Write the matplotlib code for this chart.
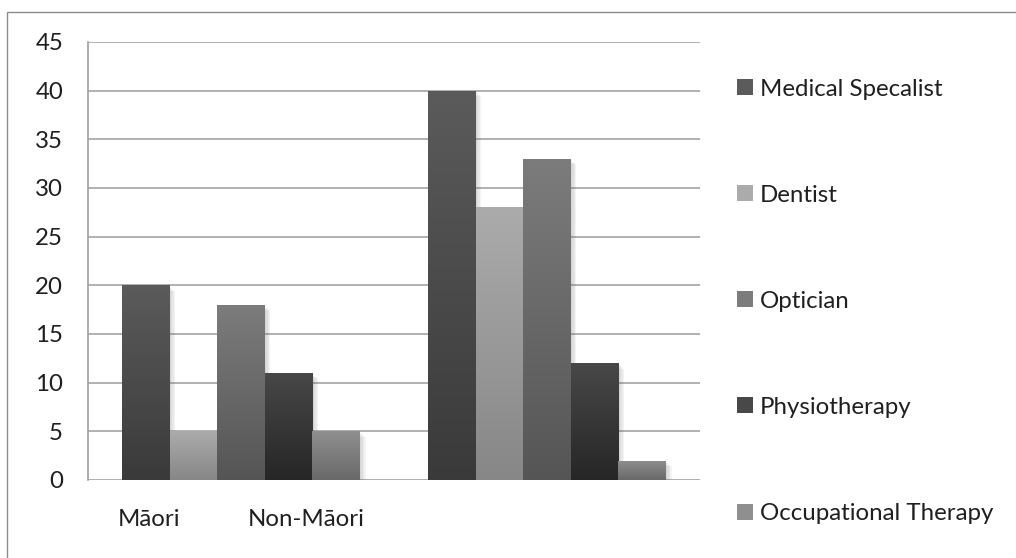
import numpy as np
import matplotlib
matplotlib.use("Agg")
import matplotlib.pyplot as plt
from matplotlib.patches import Rectangle
from matplotlib.colors import LinearSegmentedColormap
import matplotlib.patheffects as pe

# Data
categories = ["Māori", "Non-Māori"]
series_names = ["Medical Specalist", "Dentist", "Optician", "Physiotherapy", "Occupational Therapy"]
medical = [20, 40]
dentist = [5, 28]
optician = [18, 33]
physio = [11, 12]
occupational = [5, 2]
y_ticks = [0, 5, 10, 15, 20, 25, 30, 35, 40, 45]

series_values = [medical, dentist, optician, physio, occupational]
# (top, bottom) gradient shades per series
shades = [("#5b5b5b", "#3a3a3a"),
          ("#ababab", "#878787"),
          ("#7c7c7c", "#555555"),
          ("#484848", "#262626"),
          ("#8f8f8f", "#696969")]

plt.rcParams["font.family"] = ["Lato", "DejaVu Sans"]
FS = 17.3
TXT = "#1f1f1f"

W, H = 1016, 558
fig = plt.figure(figsize=(W / 100, H / 100), dpi=100)
fig.patch.set_facecolor("white")

# outer chart frame
fig.patches.append(Rectangle((7 / W, -0.05), 1.2, 1 - 12 / H + 0.05,
                             transform=fig.transFigure, fill=False,
                             edgecolor="#8c8c8c", linewidth=1.0))

ax = fig.add_axes([88 / W, 1 - 480 / H, (700 - 88) / W, (480 - 42) / H])
ax.set_xlim(-0.5, 1.5)
ax.set_ylim(0, 45)
ax.set_yticks(y_ticks)
ax.set_yticklabels([str(v) for v in y_ticks], fontsize=FS, color=TXT)
ax.tick_params(axis="y", length=0, pad=18)
ax.tick_params(axis="x", length=0, pad=21)
for s in ["top", "right", "bottom"]:
    ax.spines[s].set_visible(False)
ax.spines["left"].set_color("#a0a0a0")
ax.spines["left"].set_linewidth(1.2)
ax.grid(axis="y", color="#a3a3a3", linewidth=1.2)
ax.set_axisbelow(True)

# category labels sit under the left part of the plot
ax.set_xticks([-0.30, 0.212])
ax.set_xticklabels(categories, fontsize=FS, color=TXT)

# soft drop shadow built from a few faint offset copies
shadow = [pe.SimplePatchShadow(offset=(d, -d), shadow_rgbFace="#606060", alpha=0.07)
          for d in (1, 2, 3, 4)] + [pe.Normal()]

n = len(series_names)
group_w = 238 / 306
bw = group_w / n
x = np.arange(len(categories))
for i, (vals, (top, bot)) in enumerate(zip(series_values, shades)):
    cmap = LinearSegmentedColormap.from_list(f"g{i}", [bot, top])
    xs = x - group_w / 2 + bw * (i + 0.5)
    bars = ax.bar(xs, vals, width=bw, color=top, linewidth=0, zorder=3)
    for b in bars:
        b.set_path_effects(shadow)
        x0, y0 = b.get_x(), b.get_y()
        grad = np.linspace(0, 1, 256).reshape(-1, 1)
        im = ax.imshow(grad, cmap=cmap, origin="lower", aspect="auto",
                       extent=(x0, x0 + b.get_width(), y0, y0 + b.get_height()),
                       zorder=4, interpolation="bicubic")
        im.set_clip_path(b)
ax.set_xlim(-0.5, 1.5)
ax.set_ylim(0, 45)

# legend
leg_y = [87, 193, 299, 405, 512]
for name, (top, bot), yy in zip(series_names, shades, leg_y):
    fig.patches.append(Rectangle((737 / W, 1 - (yy + 8) / H), 16 / W, 16 / H,
                                 transform=fig.transFigure, facecolor=top,
                                 edgecolor="none"))
    fig.text(760 / W, 1 - yy / H, name, fontsize=FS, color=TXT,
             ha="left", va="center_baseline")

fig.savefig("out.png", dpi=100, facecolor="white")
